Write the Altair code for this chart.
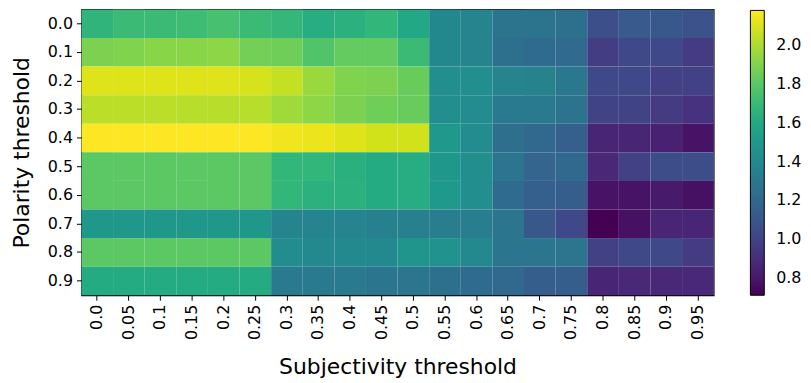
import altair as alt
import pandas as pd

subjectivity = ["0.0", "0.05", "0.1", "0.15", "0.2", "0.25", "0.3", "0.35", "0.4", "0.45",
                "0.5", "0.55", "0.6", "0.65", "0.7", "0.75", "0.8", "0.85", "0.9", "0.95"]
polarity = ["0.0", "0.1", "0.2", "0.3", "0.4", "0.5", "0.6", "0.7", "0.8", "0.9"]

p00 = [1.67, 1.71, 1.71, 1.72, 1.75, 1.71, 1.69, 1.62, 1.65, 1.68, 1.59, 1.39, 1.37, 1.27, 1.27, 1.25, 1.06, 1.12, 1.11, 1.08]
p01 = [1.89, 1.90, 1.92, 1.92, 1.93, 1.87, 1.86, 1.78, 1.83, 1.83, 1.71, 1.39, 1.37, 1.25, 1.22, 1.21, 0.97, 1.03, 1.03, 0.96]
p02 = [2.11, 2.11, 2.11, 2.11, 2.11, 2.09, 2.05, 1.96, 1.90, 1.89, 1.84, 1.43, 1.43, 1.37, 1.36, 1.30, 1.03, 1.03, 0.99, 0.99]
p03 = [2.03, 2.03, 2.03, 2.02, 2.02, 2.02, 1.97, 1.93, 1.89, 1.86, 1.84, 1.43, 1.42, 1.31, 1.31, 1.27, 1.00, 1.00, 0.96, 0.92]
p04 = [2.18, 2.18, 2.18, 2.18, 2.18, 2.18, 2.15, 2.14, 2.11, 2.08, 2.08, 1.50, 1.42, 1.24, 1.20, 1.15, 0.86, 0.86, 0.84, 0.78]
p05 = [1.81, 1.81, 1.81, 1.81, 1.81, 1.81, 1.68, 1.68, 1.64, 1.61, 1.62, 1.49, 1.43, 1.28, 1.18, 1.20, 0.87, 0.99, 1.05, 1.05]
p06 = [1.81, 1.81, 1.81, 1.81, 1.81, 1.81, 1.68, 1.65, 1.65, 1.61, 1.62, 1.50, 1.43, 1.22, 1.15, 1.14, 0.78, 0.78, 0.81, 0.77]
p07 = [1.49, 1.49, 1.49, 1.49, 1.49, 1.49, 1.37, 1.37, 1.37, 1.34, 1.34, 1.33, 1.33, 1.28, 1.11, 1.03, 0.71, 0.77, 0.86, 0.86]
p08 = [1.81, 1.81, 1.81, 1.81, 1.81, 1.81, 1.42, 1.40, 1.40, 1.40, 1.47, 1.45, 1.40, 1.28, 1.28, 1.28, 0.99, 1.03, 1.03, 0.96]
p09 = [1.61, 1.61, 1.61, 1.61, 1.61, 1.61, 1.31, 1.31, 1.31, 1.28, 1.28, 1.25, 1.22, 1.20, 1.14, 1.14, 0.86, 0.87, 0.87, 0.87]

grid = [p00, p01, p02, p03, p04, p05, p06, p07, p08, p09]
colorbar_ticks = [0.8, 1.0, 1.2, 1.4, 1.6, 1.8, 2.0]
color_domain = [0.71, 2.18]

records = []
for p, row in zip(polarity, grid):
    for s, v in zip(subjectivity, row):
        records.append({"polarity": p, "subjectivity": s, "value": v})
df = pd.DataFrame(records)

FONT = "DejaVu Sans"
scale = alt.Scale(scheme="viridis", domain=color_domain)

chart = alt.Chart(df).mark_rect().encode(
    x=alt.X("subjectivity:N", sort=subjectivity, title="Subjectivity threshold",
            axis=alt.Axis(labelAngle=-90, labelAlign="right", labelBaseline="middle",
                          labelFontSize=16, labelPadding=4, tickSize=5, tickColor="black",
                          labelColor="black", domain=False, titleFontSize=22,
                          titleFontWeight="normal", titleY=79, titleBaseline="alphabetic",
                          labelFont=FONT, titleFont=FONT, titleColor="black")),
    y=alt.Y("polarity:N", sort=polarity, title="Polarity threshold",
            axis=alt.Axis(labelFontSize=16, labelPadding=4, tickSize=5, tickColor="black",
                          labelColor="black", domain=False, titleFontSize=22,
                          titleFontWeight="normal", titleX=-60, titleY=144,
                          titleAngle=-90, titleAlign="center", titleBaseline="middle",
                          labelFont=FONT, titleFont=FONT, titleColor="black")),
    color=alt.Color("value:Q", scale=scale,
                    legend=alt.Legend(type="gradient", orient="none", legendX=674, legendY=1,
                                      direction="vertical", gradientLength=287,
                                      gradientThickness=14, gradientStrokeColor="black",
                                      gradientStrokeWidth=1, values=colorbar_ticks,
                                      format=".1f", labelFontSize=16, labelOffset=12,
                                      labelOverlap=False, labelColor="black",
                                      labelFont=FONT, title=None)),
).properties(
    width=637, height=288,
    autosize=alt.AutoSizeParams(type="none"),
    padding={"left": 74, "top": 0, "right": 90, "bottom": 87},
).configure_view(stroke="black", strokeWidth=1.2)

chart.save("out.html", embed_options={"renderer": "svg", "actions": False})
